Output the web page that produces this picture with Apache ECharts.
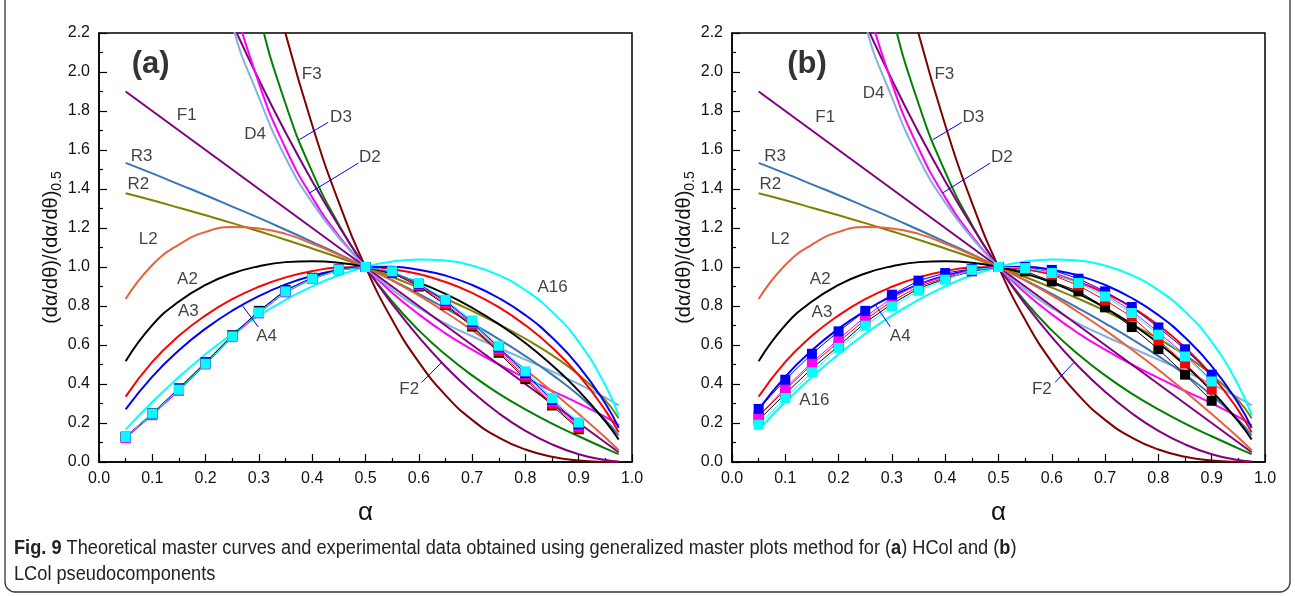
<!DOCTYPE html>
<html>
<head>
<meta charset="utf-8">
<script src="https://cdn.jsdelivr.net/npm/echarts@6/dist/echarts.min.js"></script>
<style>
html,body{margin:0;padding:0;background:#fff;}
#chart{width:1295px;height:596px;}
</style>
</head>
<body>
<div id="chart"></div>
<script>
// ---------- DATA ----------
const alphaGrid = [0.05,0.10,0.15,0.20,0.25,0.30,0.35,0.40,0.45,0.50,0.55,0.60,0.65,0.70,0.75,0.80,0.85,0.90,0.95,0.975];
const curveF1  = [1.9,1.8,1.7,1.6,1.5,1.4,1.3,1.2,1.1,1.0,0.9,0.8,0.7,0.6,0.5,0.4,0.3,0.2,0.1,0.05];
const curveF2  = [3.61,3.24,2.89,2.56,2.25,1.96,1.69,1.44,1.21,1.0,0.81,0.64,0.49,0.36,0.25,0.16,0.09,0.04,0.01,0.0025];
const curveF3  = [6.86,5.83,4.91,4.10,3.38,2.744,2.197,1.728,1.331,1.0,0.729,0.512,0.343,0.216,0.125,0.064,0.027,0.008,0.001,0.0001];
const curveR2  = [1.378,1.342,1.304,1.265,1.225,1.183,1.140,1.095,1.049,1.0,0.949,0.894,0.837,0.775,0.707,0.632,0.548,0.447,0.316,0.224];
const curveR3  = [1.534,1.480,1.424,1.368,1.310,1.252,1.191,1.129,1.066,1.0,0.932,0.862,0.788,0.711,0.630,0.543,0.448,0.342,0.215,0.136];
const curveL2  = [0.836,1.01,1.115,1.18,1.205,1.198,1.17,1.12,1.062,1.0,0.931,0.854,0.768,0.676,0.577,0.473,0.362,0.246,0.126,0.06];
const curveA2  = [0.517,0.702,0.823,0.908,0.967,1.004,1.025,1.030,1.022,1.0,0.966,0.920,0.862,0.791,0.707,0.610,0.496,0.365,0.208,0.115];
const curveA3  = [0.335,0.513,0.647,0.752,0.835,0.899,0.947,0.979,0.997,1.0,0.989,0.964,0.923,0.867,0.794,0.701,0.587,0.445,0.265,0.152];
const curveA4  = [0.270,0.438,0.573,0.684,0.776,0.851,0.910,0.955,0.985,1.0,1.001,0.986,0.956,0.908,0.841,0.753,0.638,0.492,0.300,0.175];
const curveA16 = [0.166,0.308,0.436,0.553,0.658,0.751,0.832,0.901,0.958,1.0,1.028,1.039,1.033,1.007,0.958,0.881,0.771,0.616,0.394,0.240];
const curveD2  = [13.5,6.58,4.27,3.11,2.41,1.943,1.609,1.357,1.159,1.0,0.868,0.757,0.660,0.576,0.500,0.431,0.365,0.301,0.231,0.188];
const curveD3  = [18.67,8.845,5.572,3.937,2.956,2.303,1.837,1.488,1.217,1.0,0.823,0.675,0.551,0.444,0.351,0.270,0.197,0.132,0.070,0.040];
const curveD4  = [12.0,6.0,4.0,2.95,2.25,1.87,1.56,1.33,1.15,1.0,0.885,0.79,0.71,0.645,0.585,0.525,0.465,0.40,0.33,0.29];

const expAlpha = [0.05,0.10,0.15,0.20,0.25,0.30,0.35,0.40,0.45,0.50,0.55,0.60,0.65,0.70,0.75,0.80,0.85,0.90];
// panel (a) HCol
const expA_black   = [0.130,0.250,0.378,0.512,0.650,0.775,0.882,0.945,0.987,1.0,0.970,0.900,0.805,0.695,0.560,0.425,0.290,0.168];
const expA_red     = [0.125,0.245,0.370,0.505,0.645,0.768,0.878,0.940,0.985,1.0,0.972,0.905,0.810,0.702,0.568,0.435,0.298,0.175];
const expA_magenta = [0.122,0.240,0.365,0.500,0.640,0.762,0.870,0.938,0.983,1.0,0.975,0.910,0.820,0.712,0.580,0.448,0.310,0.185];
const expA_blue    = [0.128,0.247,0.373,0.508,0.647,0.770,0.879,0.942,0.986,1.0,0.976,0.914,0.826,0.718,0.588,0.455,0.318,0.193];
const expA_cyan    = [0.128,0.248,0.371,0.504,0.644,0.767,0.875,0.940,0.985,1.0,0.978,0.918,0.832,0.726,0.596,0.465,0.328,0.203];
// panel (b) LCol
const expB_black   = [0.215,0.350,0.480,0.595,0.715,0.810,0.890,0.940,0.978,1.0,0.978,0.926,0.875,0.793,0.692,0.579,0.448,0.314];
const expB_red     = [0.235,0.370,0.500,0.615,0.730,0.825,0.900,0.945,0.980,1.0,0.990,0.960,0.905,0.830,0.745,0.625,0.505,0.372];
const expB_magenta = [0.237,0.380,0.510,0.630,0.745,0.840,0.912,0.952,0.985,1.0,0.995,0.975,0.925,0.860,0.775,0.665,0.550,0.420];
const expB_blue    = [0.272,0.422,0.555,0.670,0.775,0.858,0.930,0.969,0.990,1.0,1.000,0.985,0.940,0.875,0.795,0.690,0.578,0.448];
const expB_cyan    = [0.191,0.328,0.460,0.585,0.699,0.798,0.878,0.935,0.986,1.0,0.995,0.969,0.918,0.849,0.764,0.653,0.541,0.413];

const xTicks = [0.0,0.1,0.2,0.3,0.4,0.5,0.6,0.7,0.8,0.9,1.0];
const yTicks = [0.0,0.2,0.4,0.6,0.8,1.0,1.2,1.4,1.6,1.8,2.0,2.2];

// annotation texts (panel, text, alpha, value)
const labelTexts = [
  [0,'F1',0.1645,1.777],[0,'R3',0.080,1.567],[0,'R2',0.074,1.422],[0,'D4',0.293,1.683],
  [0,'D3',0.454,1.768],[0,'D2',0.508,1.563],[0,'F3',0.399,1.986],[0,'L2',0.0925,1.144],
  [0,'A2',0.166,0.935],[0,'A3',0.1675,0.772],[0,'A4',0.3146,0.644],[0,'A16',0.851,0.896],[0,'F2',0.582,0.371],
  [1,'F1',0.175,1.768],[1,'R3',0.081,1.567],[1,'R2',0.072,1.422],[1,'D4',0.2655,1.892],
  [1,'D3',0.453,1.768],[1,'D2',0.5063,1.563],[1,'F3',0.3985,1.986],[1,'L2',0.0906,1.144],
  [1,'A2',0.1656,0.935],[1,'A3',0.1688,0.768],[1,'A4',0.3156,0.644],[1,'A16',0.1547,0.315],[1,'F2',0.5813,0.371]
];
const panelTags = [[0,'(a)',0.097,2.041],[1,'(b)',0.1406,2.041]];
// leader lines (panel, a1, v1, a2, v2)
const leaders = [
  [0,0.430,1.742,0.3758,1.653],[0,0.4865,1.533,0.3946,1.379],[0,0.299,0.692,0.2696,0.800],[0,0.6054,0.408,0.643,0.511],
  [1,0.4313,1.742,0.3769,1.653],[1,0.4843,1.533,0.3949,1.379],[1,0.2968,0.695,0.2687,0.807],[1,0.6062,0.408,0.6406,0.508]
];

// ---------- STYLE ----------
const FONT = "'Liberation Sans', Arial, Helvetica, sans-serif";
const NARROW = "'Liberation Sans Narrow', 'Liberation Sans', Arial, sans-serif";
const curves = [
  ['F3', curveF3, '#7f0000'],
  ['D3', curveD3, '#008000'],
  ['F2', curveF2, '#800080'],
  ['D2', curveD2, '#ff00ff'],
  ['D4', curveD4, '#80b2dc'],
  ['F1', curveF1, '#800080'],
  ['R3', curveR3, '#3a76b2'],
  ['R2', curveR2, '#808000'],
  ['L2', curveL2, '#e8603c'],
  ['A2', curveA2, '#000000'],
  ['A3', curveA3, '#ff0000'],
  ['A4', curveA4, '#0000ff'],
  ['A16', curveA16, '#00ffff']
];
const expSets = [
  [['black',expA_black,'#000000'],['red',expA_red,'#ff0000'],['magenta',expA_magenta,'#ff00ff'],['blue',expA_blue,'#0000ff'],['cyan',expA_cyan,'#00ffff']],
  [['black',expB_black,'#000000'],['red',expB_red,'#ff0000'],['magenta',expB_magenta,'#ff00ff'],['blue',expB_blue,'#0000ff'],['cyan',expB_cyan,'#00ffff']]
];

const grids = [
  {left:99, top:33, width:533, height:429, show:true, borderColor:'#000', borderWidth:1.5, backgroundColor:'transparent'},
  {left:732, top:33, width:533, height:429, show:true, borderColor:'#000', borderWidth:1.5, backgroundColor:'transparent'}
];

function xAxisFor(i){
  return {
    gridIndex:i, type:'value', min:xTicks[0], max:xTicks[xTicks.length-1], interval:0.1,
    name:'α', nameLocation:'middle', nameGap:38,
    nameTextStyle:{fontFamily:FONT, fontSize:26, color:'#111'},
    axisLine:{show:true, onZero:false, lineStyle:{color:'#000', width:1.5}},
    axisTick:{show:true, inside:true, length:8, lineStyle:{color:'#000', width:1.2}},
    minorTick:{show:true, splitNumber:2, length:4, lineStyle:{color:'#000', width:1.2}},
    splitLine:{show:false},
    axisLabel:{fontFamily:FONT, fontSize:16, color:'#111', margin:9, formatter:v=>v.toFixed(1)}
  };
}
function yAxisFor(i){
  return {
    gridIndex:i, type:'value', min:yTicks[0], max:yTicks[yTicks.length-1], interval:0.2,
    name:'{m|(dα/dθ)/(dα/dθ)}{s|0.5}', nameLocation:'middle', nameGap:33, nameRotate:90,
    nameTextStyle:{fontFamily:FONT, fontSize:20, color:'#111',
      rich:{m:{fontFamily:FONT, fontSize:20, color:'#111'}, s:{fontFamily:FONT, fontSize:14, color:'#111', padding:[11,0,0,0]}}},
    axisLine:{show:true, onZero:false, lineStyle:{color:'#000', width:1.5}},
    axisTick:{show:true, inside:true, length:8, lineStyle:{color:'#000', width:1.2}},
    minorTick:{show:true, splitNumber:2, length:4, lineStyle:{color:'#000', width:1.2}},
    splitLine:{show:false},
    axisLabel:{fontFamily:FONT, fontSize:16, color:'#111', margin:9, formatter:v=>v.toFixed(1)}
  };
}

const series = [];
for (let p=0; p<2; p++){
  curves.forEach(([name, vals, color]) => {
    series.push({
      type:'line', name:name, xAxisIndex:p, yAxisIndex:p,
      data: alphaGrid.map((a,i)=>[a, vals[i]]),
      showSymbol:false, symbol:'none', smooth:0.5, clip:true,
      lineStyle:{color:color, width:2}, z:2, silent:true
    });
  });
  expSets[p].forEach(([name, vals, color]) => {
    series.push({
      type:'line', name:'exp-'+name, xAxisIndex:p, yAxisIndex:p,
      data: expAlpha.map((a,i)=>[a, vals[i]]),
      symbol:'rect', symbolSize:10, showSymbol:true,
      itemStyle:{color:color, borderWidth:0},
      lineStyle:{color:color, width:1}, z:3, silent:true
    });
  });
  series.push({
    type:'scatter', xAxisIndex:p, yAxisIndex:p, symbol:'circle', symbolSize:1,
    itemStyle:{color:'rgba(0,0,0,0)'}, z:5, silent:true,
    data: labelTexts.filter(l=>l[0]===p).map(l=>({value:[l[2], l[3]], name:l[1]})),
    label:{show:true, position:'inside', formatter:pp=>pp.name, fontFamily:FONT, fontSize:17, color:'#111'}
  });
  series.push({
    type:'scatter', xAxisIndex:p, yAxisIndex:p, symbol:'circle', symbolSize:1,
    itemStyle:{color:'rgba(0,0,0,0)'}, z:5, silent:true,
    data: panelTags.filter(l=>l[0]===p).map(l=>({value:[l[2], l[3]], name:l[1]})),
    label:{show:true, position:'inside', formatter:pp=>pp.name, fontFamily:FONT, fontSize:31, fontWeight:'bold', color:'#000'}
  });
  leaders.filter(l=>l[0]===p).forEach(l => {
    series.push({
      type:'line', xAxisIndex:p, yAxisIndex:p, data:[[l[1],l[2]],[l[3],l[4]]],
      symbol:'none', lineStyle:{color:'#0000ff', width:1}, z:4, silent:true
    });
  });
}

const chart = echarts.init(document.getElementById('chart'), null, {renderer:'canvas'});
chart.setOption({
  backgroundColor:'#fff',
  animation:false,
  grid: grids,
  xAxis: [xAxisFor(0), xAxisFor(1)],
  yAxis: [yAxisFor(0), yAxisFor(1)],
  series: series,
  graphic: [
    {type:'rect', shape:{x:5, y:-20, width:1285, height:612, r:10}, style:{fill:'none', stroke:'#333', lineWidth:1.3}, silent:true},
    {type:'text', x:14, y:538, scaleX:0.91, silent:true, style:{
      text:'{b|Fig. 9} Theoretical master curves and experimental data obtained using generalized master plots method for ({b|a}) HCol and ({b|b})',
      fontFamily:NARROW, fontSize:20, fill:'#222', verticalAlign:'top',
      rich:{b:{fontFamily:NARROW, fontSize:20, fontWeight:'bold', fill:'#222'}}
    }},
    {type:'text', x:14, y:564, scaleX:0.91, silent:true, style:{
      text:'LCol pseudocomponents', verticalAlign:'top',
      fontFamily:NARROW, fontSize:20, fill:'#222'
    }}
  ]
});
</script>
</body>
</html>
